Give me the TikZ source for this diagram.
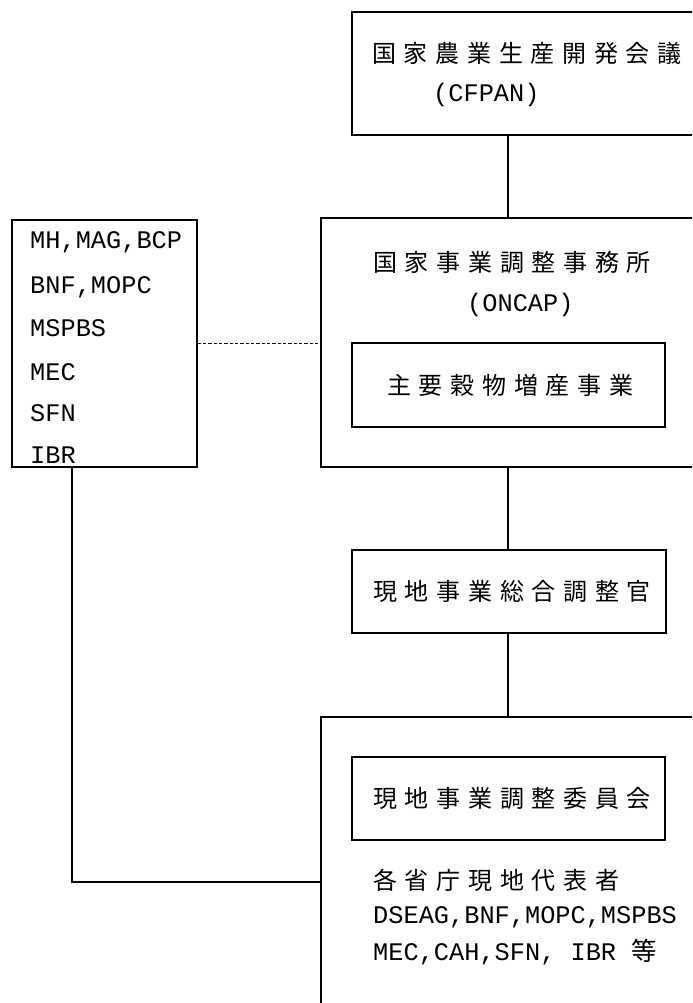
\documentclass[tikz,border=0pt]{standalone}
\usepackage{fontspec}
\usetikzlibrary{fit}
\newfontfamily\jpfont[LetterSpace=32]{Noto Sans CJK JP}
\newfontfamily\abbrfont{Liberation Mono}

\begin{document}
\begin{tikzpicture}[x=0.3mm, y=-0.3mm,
  box/.style={draw, line width=1.3pt, inner sep=0pt},
  link/.style={line width=1.3pt},
  jp/.style={anchor=west, inner sep=0pt, font=\fontsize{20.5}{24}\selectfont\jpfont},
  abbr/.style={anchor=west, inner sep=0pt, font=\fontsize{21.6}{26}\selectfont\abbrfont}]
\useasboundingbox (0,0) rectangle (692,1003);
\clip (0,0) rectangle (692,1003);

% national council
\node[box, fit={(352,12) (720,135)}] (cfpan) {};
\node[jp] (cfpanname) at (372,53) {国家農業生産開発会議};
\node[abbr] (cfpanabbr) at (433,95) {(CFPAN)};

% national coordination office
\node[box, fit={(321,218) (720,467)}] (oncap) {};
\node[jp] (oncapname) at (373,262) {国家事業調整事務所};
\node[abbr] (oncapabbr) at (467,305) {(ONCAP)};
\node[box, fit={(352,343) (665,427)}] (grain) {};
\node[jp] (grainname) at (387,385) {主要穀物増産事業};

% field coordinator
\node[box, fit={(352,550) (666,633)}] (coord) {};
\node[jp] (coordname) at (373,591) {現地事業総合調整官};

% field committee
\node[box, fit={(321,717) (720,1030)}] (field) {};
\node[box, fit={(352,757) (665,840)}] (committee) {};
\node[jp] (committeename) at (373,798) {現地事業調整委員会};
\node[jp] (reps) at (373,880) {各省庁現地代表者};
\node[abbr] (repsa) at (373,917) {DSEAG,BNF,MOPC,MSPBS};
\node[abbr] (repsb) at (373,952) {MEC,CAH,SFN, IBR {\jpfont 等}};

% ministries
\node[box, fit={(12,220) (197,467)}] (ministries) {};
\node[abbr] (min1) at (30,242) {MH,MAG,BCP};
\node[abbr] (min2) at (30,287) {BNF,MOPC};
\node[abbr] (min3) at (30,328) {MSPBS};
\node[abbr] (min4) at (30,372) {MEC};
\node[abbr] (min5) at (30,413) {SFN};
\node[abbr] (min6) at (30,455) {IBR};

\coordinate (trunk) at (508,0);
\coordinate (elbow) at (72,882);
\draw[link] (cfpan.south -| trunk) -- (oncap.north -| trunk);
\draw[link] (oncap.south -| trunk) -- (coord.north -| trunk);
\draw[link] (coord.south -| trunk) -- (field.north -| trunk);
\draw[line width=0.9pt, dash pattern=on 1mm off 0.6mm] (ministries.east) -- (oncap.west |- ministries.east);
\draw[link] (ministries.south -| elbow) -- (elbow) -- (field.west |- elbow);
\end{tikzpicture}
\end{document}
